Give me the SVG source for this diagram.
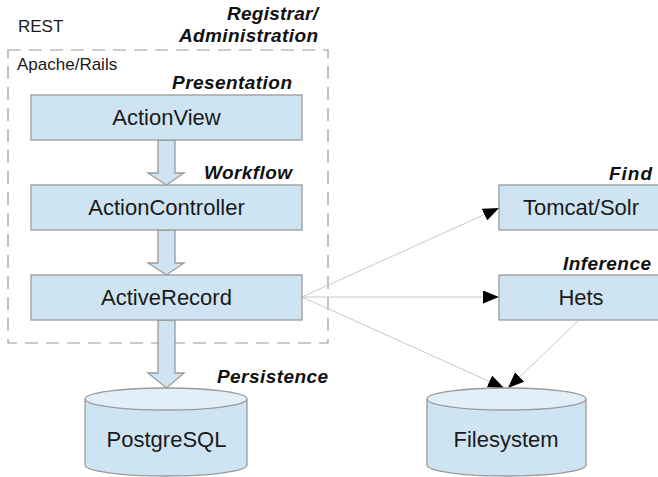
<svg xmlns="http://www.w3.org/2000/svg" width="658" height="477" viewBox="0 0 658 477">
<defs>
<style>
.box{fill:#cfe4f3;stroke:#9a9a9a;stroke-width:1.3}
.top{fill:#e2eff9;stroke:#9a9a9a;stroke-width:1.3}
.t{font-family:"Liberation Sans",Arial,sans-serif;font-size:22px;fill:#1a1a1a;text-anchor:middle}
.s{font-family:"Liberation Sans",Arial,sans-serif;font-size:17px;fill:#1a1a1a}
.l{font-family:"Liberation Sans",Arial,sans-serif;font-size:19px;font-weight:bold;font-style:italic;fill:#111;text-anchor:end}
.c{stroke:#c8c8c8;stroke-width:1;fill:none}
</style>
<marker id="ah" markerUnits="userSpaceOnUse" markerWidth="17" markerHeight="13" refX="16" refY="6.5" orient="auto">
<path d="M0,0 L16,6.5 L0,13 Z" fill="#000"/>
</marker>
</defs>
<rect width="658" height="477" fill="#fff"/>
<text class="s" x="18" y="32">REST</text>
<text class="l" x="318" y="20" textLength="91" lengthAdjust="spacing">Registrar/</text>
<text class="l" x="318" y="42" textLength="139" lengthAdjust="spacing">Administration</text>
<rect x="8" y="50" width="320" height="293" fill="none" stroke="#9a9a9a" stroke-width="1.2" stroke-dasharray="13,8"/>
<text class="s" x="17" y="70">Apache/Rails</text>
<text class="l" x="292" y="89" textLength="120" lengthAdjust="spacing">Presentation</text>
<text class="l" x="292" y="179" textLength="88" lengthAdjust="spacing">Workflow</text>
<text class="l" x="328" y="383" textLength="111" lengthAdjust="spacing">Persistence</text>
<text class="l" x="652" y="180" textLength="43" lengthAdjust="spacing">Find</text>
<text class="l" x="651" y="270" textLength="88" lengthAdjust="spacing">Inference</text>
<g id="arrows-internal">
<path class="box" d="M158,140 H175 V173 H184 L166.5,185 L148,173 H158 Z"/>
<path class="box" d="M158,230 H175 V263 H184 L166.5,275 L148,263 H158 Z"/>
<path class="box" d="M158,320 H175 V373 H184 L166.5,388 L148,373 H158 Z"/>
</g>
<g id="connectors">
<line class="c" x1="302" y1="297" x2="499" y2="208" marker-end="url(#ah)"/>
<line class="c" x1="302" y1="297" x2="499" y2="297" marker-end="url(#ah)"/>
<line class="c" x1="302" y1="297" x2="504" y2="388" marker-end="url(#ah)"/>
<line class="c" x1="579" y1="320" x2="508" y2="388" marker-end="url(#ah)"/>
</g>
<g id="actionview">
<rect class="box" x="31" y="95" width="271" height="45"/>
<text class="t" x="166.5" y="125">ActionView</text>
</g>
<g id="actioncontroller">
<rect class="box" x="31" y="185" width="271" height="45"/>
<text class="t" x="166.5" y="215">ActionController</text>
</g>
<g id="activerecord">
<rect class="box" x="31" y="275" width="271" height="45"/>
<text class="t" x="166.5" y="305">ActiveRecord</text>
</g>
<g id="tomcat">
<rect class="box" x="499" y="185" width="170" height="45"/>
<text class="t" x="581" y="215">Tomcat/Solr</text>
</g>
<g id="hets">
<rect class="box" x="499" y="275" width="170" height="45"/>
<text class="t" x="581" y="305">Hets</text>
</g>
<g id="postgresql">
<path class="box" d="M85,399 V465 A81,11 0 0 0 247,465 V399"/>
<ellipse class="top" cx="166" cy="399" rx="81" ry="11"/>
<text class="t" x="166.5" y="447">PostgreSQL</text>
</g>
<g id="filesystem">
<path class="box" d="M427,399 V465 A79.5,11 0 0 0 586,465 V399"/>
<ellipse class="top" cx="506.5" cy="399" rx="79.5" ry="11"/>
<text class="t" x="506" y="447">Filesystem</text>
</g>
</svg>
